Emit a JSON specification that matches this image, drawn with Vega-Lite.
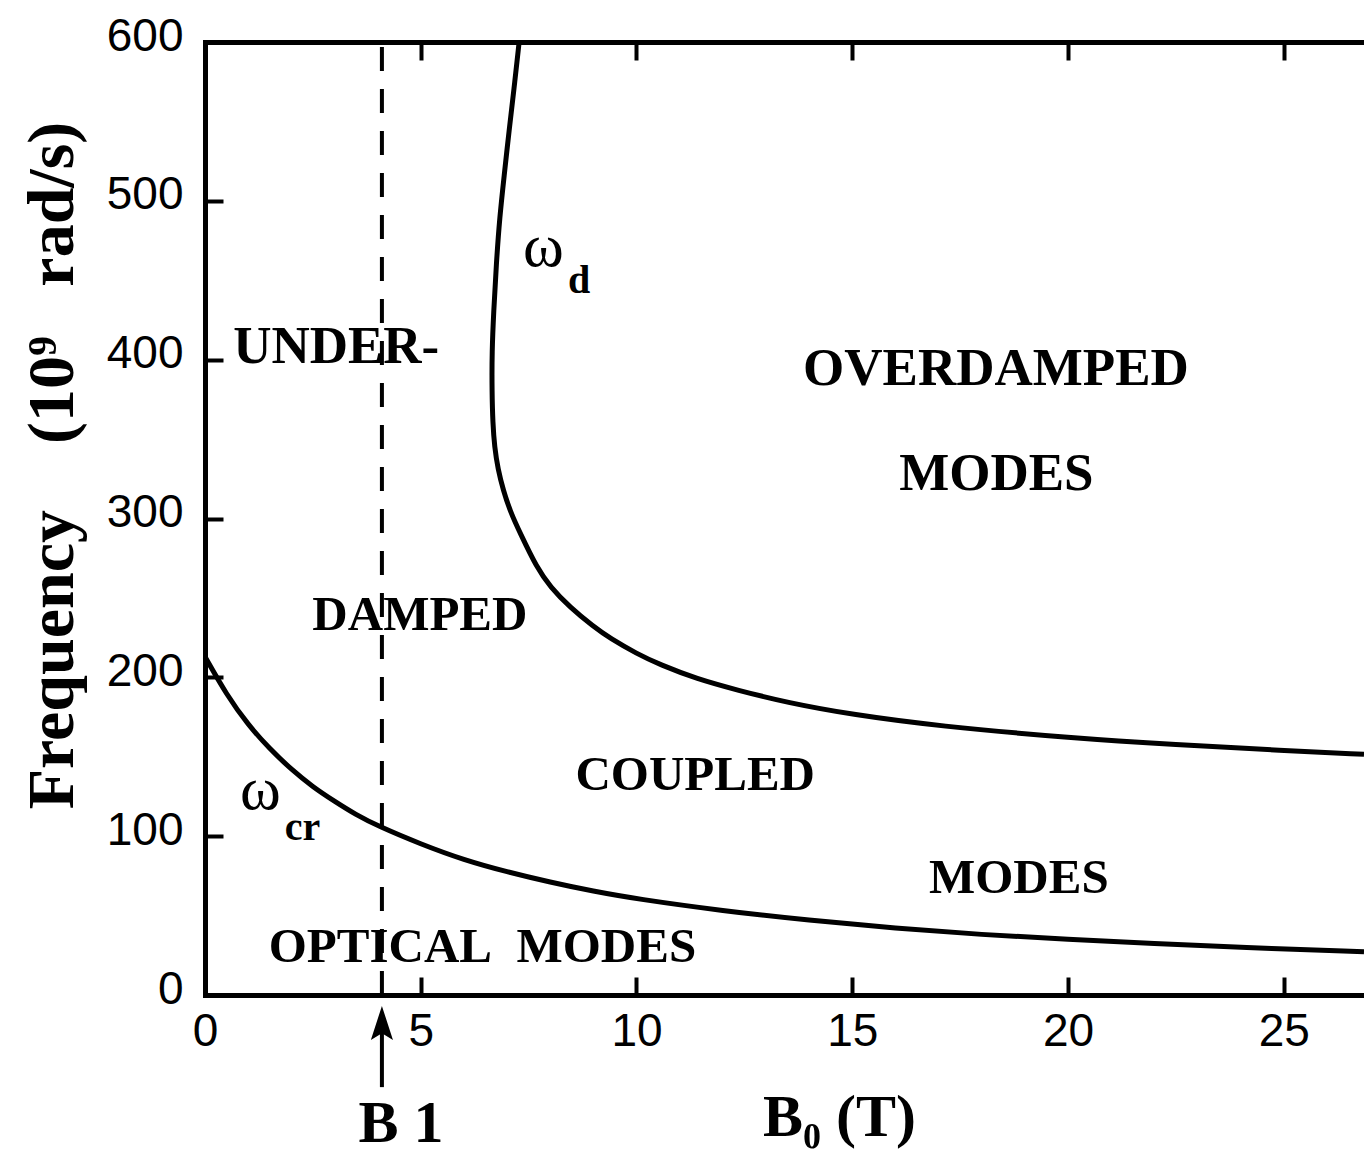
{
  "$schema": "https://vega.github.io/schema/vega-lite/v6.json",
  "width": 1159,
  "height": 953,
  "autosize": {"type": "none"},
  "padding": {"left": 205, "top": 42, "right": 0, "bottom": 172},
  "background": "white",
  "config": {
    "view": {"stroke": null},
    "axis": {"grid": false, "domainColor": "black", "tickColor": "black", "labelColor": "black", "titleColor": "black"}
  },
  "datasets": {
    "curves": [
      {"series": "cr", "i": 0, "B": 0, "w": 213},
      {"series": "cr", "i": 1, "B": 0.5, "w": 189},
      {"series": "cr", "i": 2, "B": 1, "w": 170},
      {"series": "cr", "i": 3, "B": 1.5, "w": 155},
      {"series": "cr", "i": 4, "B": 2, "w": 142},
      {"series": "cr", "i": 5, "B": 2.5, "w": 131},
      {"series": "cr", "i": 6, "B": 3, "w": 122},
      {"series": "cr", "i": 7, "B": 3.5, "w": 113.5},
      {"series": "cr", "i": 8, "B": 4, "w": 106.5},
      {"series": "cr", "i": 9, "B": 5, "w": 95},
      {"series": "cr", "i": 10, "B": 6, "w": 85},
      {"series": "cr", "i": 11, "B": 7, "w": 77.5},
      {"series": "cr", "i": 12, "B": 8, "w": 71},
      {"series": "cr", "i": 13, "B": 9, "w": 65.3},
      {"series": "cr", "i": 14, "B": 10, "w": 60.5},
      {"series": "cr", "i": 15, "B": 12, "w": 53},
      {"series": "cr", "i": 16, "B": 14, "w": 47},
      {"series": "cr", "i": 17, "B": 16, "w": 42},
      {"series": "cr", "i": 18, "B": 18, "w": 38},
      {"series": "cr", "i": 19, "B": 20, "w": 35},
      {"series": "cr", "i": 20, "B": 22, "w": 32.3},
      {"series": "cr", "i": 21, "B": 24, "w": 29.9},
      {"series": "cr", "i": 22, "B": 26.86, "w": 27.3},
      {"series": "d", "i": 0, "B": 7.28, "w": 600},
      {"series": "d", "i": 1, "B": 7.16, "w": 570},
      {"series": "d", "i": 2, "B": 7.05, "w": 545},
      {"series": "d", "i": 3, "B": 6.93, "w": 515},
      {"series": "d", "i": 4, "B": 6.83, "w": 490},
      {"series": "d", "i": 5, "B": 6.75, "w": 460},
      {"series": "d", "i": 6, "B": 6.69, "w": 430},
      {"series": "d", "i": 7, "B": 6.65, "w": 405},
      {"series": "d", "i": 8, "B": 6.65, "w": 380},
      {"series": "d", "i": 9, "B": 6.67, "w": 360},
      {"series": "d", "i": 10, "B": 6.71, "w": 345},
      {"series": "d", "i": 11, "B": 6.79, "w": 331},
      {"series": "d", "i": 12, "B": 6.91, "w": 318},
      {"series": "d", "i": 13, "B": 7.08, "w": 304},
      {"series": "d", "i": 14, "B": 7.3, "w": 291},
      {"series": "d", "i": 15, "B": 7.69, "w": 269},
      {"series": "d", "i": 16, "B": 8.0, "w": 257},
      {"series": "d", "i": 17, "B": 8.46, "w": 244},
      {"series": "d", "i": 18, "B": 9.0, "w": 232},
      {"series": "d", "i": 19, "B": 9.39, "w": 224.5},
      {"series": "d", "i": 20, "B": 10.0, "w": 215},
      {"series": "d", "i": 21, "B": 10.54, "w": 208},
      {"series": "d", "i": 22, "B": 11.4, "w": 199},
      {"series": "d", "i": 23, "B": 12.33, "w": 192},
      {"series": "d", "i": 24, "B": 13.5, "w": 184},
      {"series": "d", "i": 25, "B": 15, "w": 176.5},
      {"series": "d", "i": 26, "B": 17, "w": 169.3},
      {"series": "d", "i": 27, "B": 20, "w": 162},
      {"series": "d", "i": 28, "B": 22.5, "w": 157.5},
      {"series": "d", "i": 29, "B": 25, "w": 154},
      {"series": "d", "i": 30, "B": 26.86, "w": 151.5}
    ]
  },
  "resolve": {"axis": {"x": "independent", "y": "independent"}},
  "layer": [
    {
      "data": {"name": "curves"},
      "mark": {"type": "line", "color": "black", "strokeWidth": 5, "interpolate": "basis"},
      "encoding": {
        "x": {
          "field": "B", "type": "quantitative",
          "scale": {"domain": [0, 26.86], "nice": false, "zero": false},
          "axis": {
            "orient": "bottom", "values": [0, 5, 10, 15, 20, 25],
            "domainWidth": 5, "domainCap": "square",
            "tickWidth": 4, "tickSize": -18, "labelPadding": 32.5,
            "labelFont": "Liberation Sans", "labelFontSize": 46, "labelFlush": false,
            "title": "B₀ (T)", "titleFont": "Liberation Serif", "titleFontWeight": "bold", "titleFontSize": 60,
            "titleX": 634, "titleY": 140, "titleAlign": "center", "titleBaseline": "alphabetic"
          }
        },
        "y": {
          "field": "w", "type": "quantitative",
          "scale": {"domain": [0, 600], "nice": false},
          "axis": {
            "orient": "left", "values": [0, 100, 200, 300, 400, 500, 600],
            "domainWidth": 5, "domainCap": "square",
            "tickWidth": 4, "tickSize": -18, "labelPadding": 40, "labelOffset": -6,
            "labelFont": "Liberation Sans", "labelFontSize": 46, "labelFlush": false,
            "title": "Frequency\u00a0\u00a0\u00a0\u00a0(10⁹\u00a0\u00a0\u00a0rad/s)",
            "titleFont": "Liberation Serif", "titleFontWeight": "bold", "titleFontSize": 66,
            "titleAngle": 270, "titleX": -133, "titleY": 423, "titleAlign": "center", "titleBaseline": "alphabetic"
          }
        },
        "detail": {"field": "series"},
        "order": {"field": "i", "type": "quantitative"}
      }
    },
    {
      "data": {"values": [{"B": 4.1, "w": 0, "w2": 600}]},
      "mark": {"type": "rule", "color": "black", "strokeWidth": 4, "strokeDash": [24, 18]},
      "encoding": {
        "x": {
          "field": "B", "type": "quantitative",
          "axis": {
            "orient": "top", "values": [0, 5, 10, 15, 20, 25], "labels": false, "title": null,
            "domainWidth": 5, "domainCap": "square", "tickWidth": 4, "tickSize": -18
          }
        },
        "y": {"field": "w", "type": "quantitative", "axis": null},
        "y2": {"field": "w2"}
      }
    },
    {
      "data": {"values": [{"B": 4.1, "w": -58, "w2": -22}]},
      "mark": {"type": "rule", "color": "black", "strokeWidth": 4},
      "encoding": {
        "x": {"field": "B", "type": "quantitative", "axis": null},
        "y": {"field": "w", "type": "quantitative", "axis": null},
        "y2": {"field": "w2"}
      }
    },
    {
      "data": {"values": [{"B": 4.1, "w": -17.6}]},
      "mark": {"type": "point", "shape": "M0,-1L0.65,1L0,0.6L-0.65,1Z", "size": 1156, "filled": true, "color": "black", "opacity": 1, "strokeWidth": 0},
      "encoding": {
        "x": {"field": "B", "type": "quantitative", "axis": null},
        "y": {"field": "w", "type": "quantitative", "axis": null}
      }
    },
    {
      "data": {"values": [{"label": "B 1", "B": 4.54, "w": -92.5}]},
      "mark": {"type": "text", "font": "Liberation Serif", "fontWeight": "bold", "fontSize": 60, "align": "center", "baseline": "alphabetic", "color": "black"},
      "encoding": {
        "x": {"field": "B", "type": "quantitative", "axis": null},
        "y": {"field": "w", "type": "quantitative", "axis": null},
        "text": {"field": "label"}
      }
    },
    {
      "data": {"values": [
        {"label": "COUPLED", "B": 11.36, "w": 129},
        {"label": "MODES", "B": 18.86, "w": 64.2},
        {"label": "OPTICAL\u00a0\u00a0MODES", "B": 6.43, "w": 21},
        {"label": "DAMPED", "B": 4.98, "w": 229.8}
      ]},
      "mark": {"type": "text", "font": "Liberation Serif", "fontWeight": "bold", "fontSize": 49, "align": "center", "baseline": "alphabetic", "color": "black"},
      "encoding": {
        "x": {"field": "B", "type": "quantitative", "axis": null},
        "y": {"field": "w", "type": "quantitative", "axis": null},
        "text": {"field": "label"}
      }
    },
    {
      "data": {"values": [
        {"label": "UNDER-", "B": 3.04, "w": 397.8},
        {"label": "OVERDAMPED", "B": 18.33, "w": 384},
        {"label": "MODES", "B": 18.34, "w": 318}
      ]},
      "mark": {"type": "text", "font": "Liberation Serif", "fontWeight": "bold", "fontSize": 53, "align": "center", "baseline": "alphabetic", "color": "black"},
      "encoding": {
        "x": {"field": "B", "type": "quantitative", "axis": null},
        "y": {"field": "w", "type": "quantitative", "axis": null},
        "text": {"field": "label"}
      }
    },
    {
      "data": {"values": [
        {"label": "ω", "B": 7.37, "w": 459},
        {"label": "ω", "B": 0.81, "w": 117}
      ]},
      "mark": {"type": "text", "font": "Liberation Serif", "fontSize": 62, "align": "left", "baseline": "alphabetic", "color": "black"},
      "encoding": {
        "x": {"field": "B", "type": "quantitative", "axis": null},
        "y": {"field": "w", "type": "quantitative", "axis": null},
        "text": {"field": "label"}
      }
    },
    {
      "data": {"values": [
        {"label": "d", "B": 8.41, "w": 442},
        {"label": "cr", "B": 1.85, "w": 97.6}
      ]},
      "mark": {"type": "text", "font": "Liberation Serif", "fontWeight": "bold", "fontSize": 40, "align": "left", "baseline": "alphabetic", "color": "black"},
      "encoding": {
        "x": {"field": "B", "type": "quantitative", "axis": null},
        "y": {"field": "w", "type": "quantitative", "axis": null},
        "text": {"field": "label"}
      }
    }
  ]
}
